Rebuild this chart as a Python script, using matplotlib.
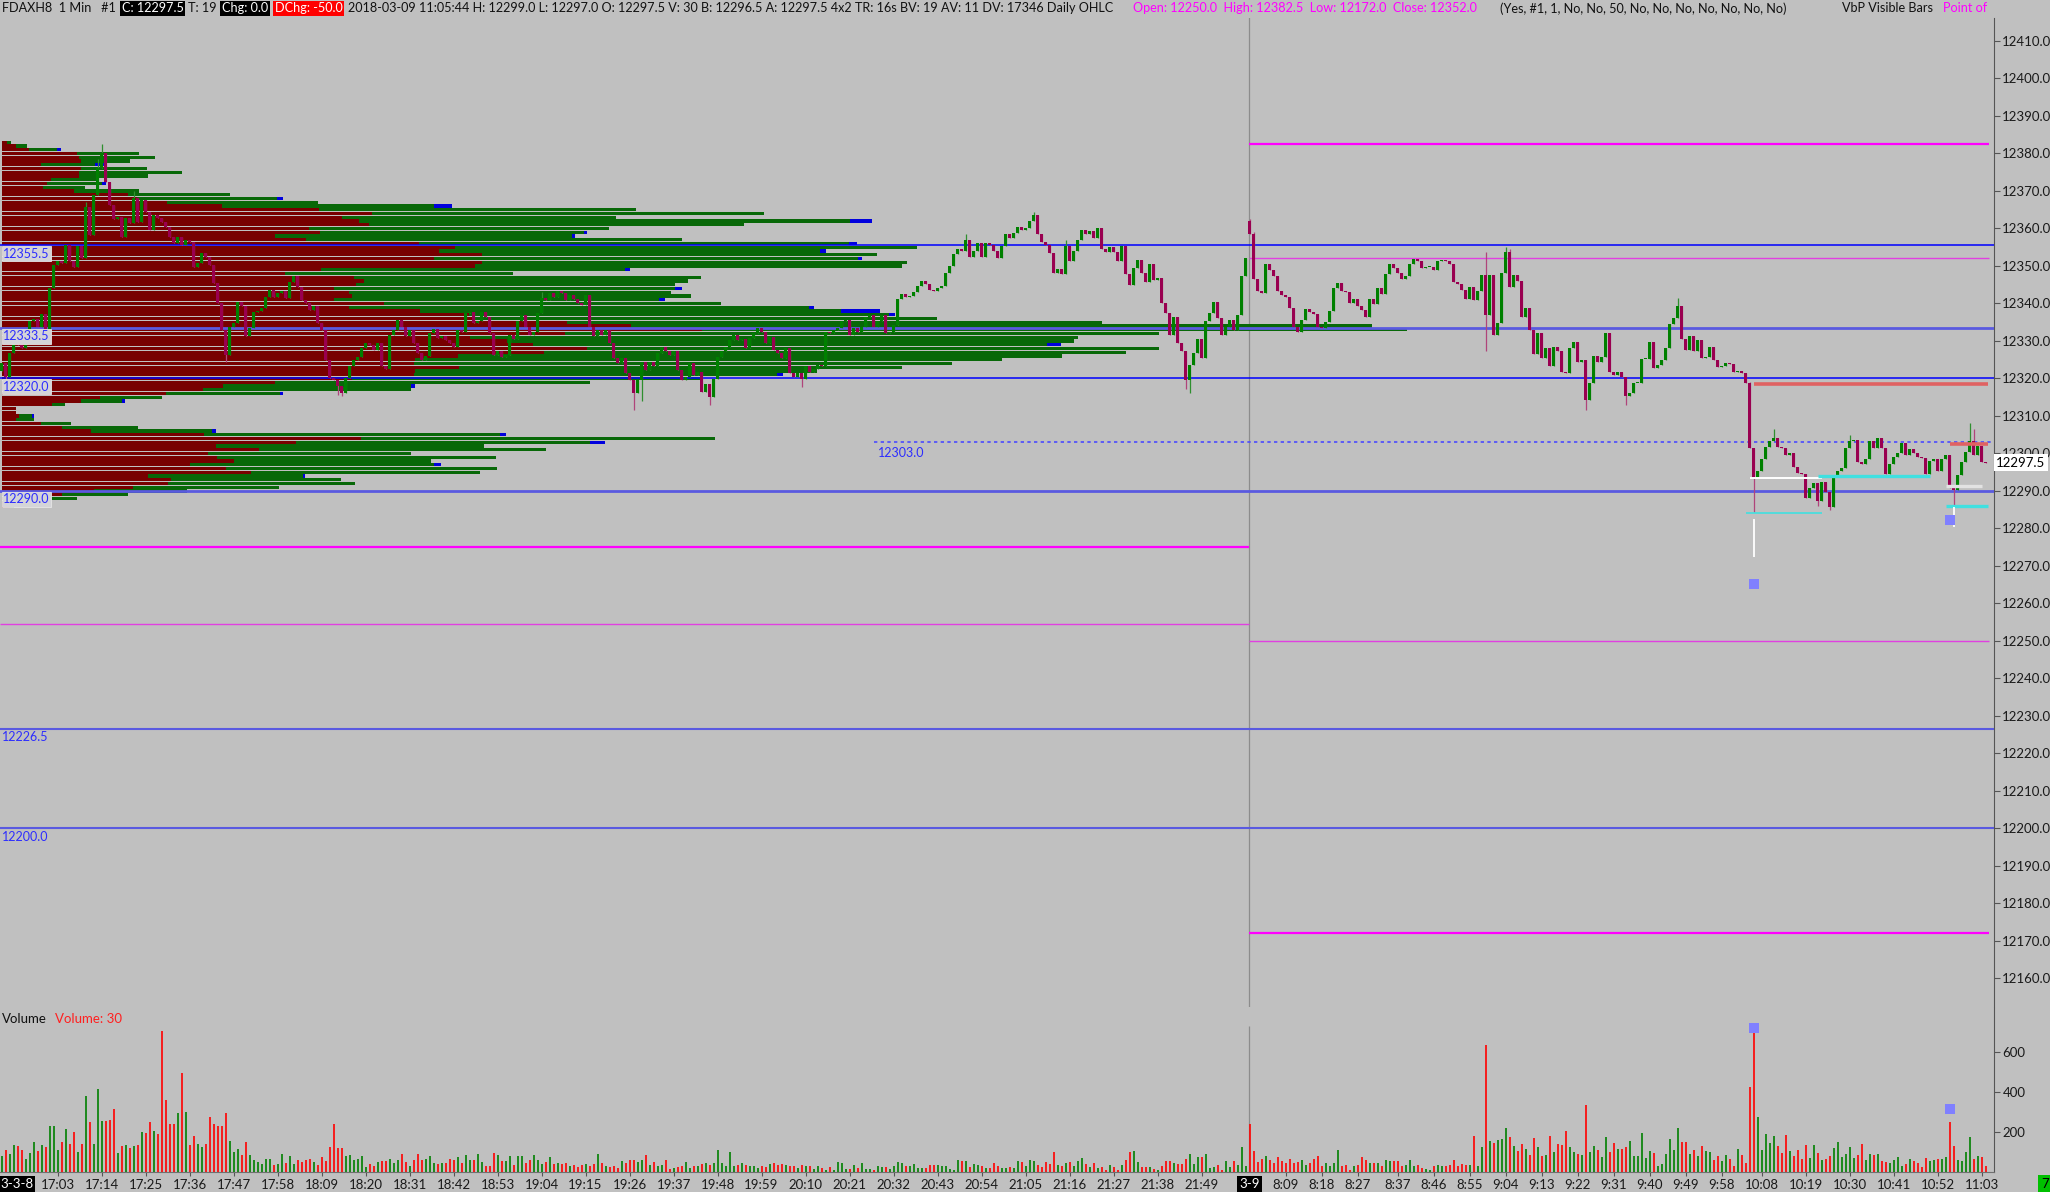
import numpy as np
import matplotlib.pyplot as plt

W, H = 2050, 1192
BG = '#c0c0c0'
plt.rcParams['font.family'] = ['Lato', 'DejaVu Sans']

# ---------------- data ----------------
# 1 minute closes, session 3-8 (16:49 .. 22:00)
s1_close = [
    12324.0, 12320.5, 12326.7, 12329.4, 12329.0, 12328.0, 12330.3, 12335.2, 12335.8, 12333.8,
    12337.1, 12333.0, 12344.0, 12350.3, 12351.2, 12350.7, 12355.6, 12351.2, 12349.8, 12355.2,
    12352.0, 12365.8, 12358.3, 12368.9, 12376.0, 12380.0, 12372.5, 12366.3, 12362.4, 12363.0,
    12357.8, 12362.7, 12361.4, 12368.0, 12361.8, 12367.6, 12364.5, 12359.6, 12363.6, 12362.7,
    12361.8, 12360.5, 12357.8, 12356.0, 12357.8, 12355.6, 12357.0, 12356.5, 12349.8, 12350.9,
    12353.4, 12352.5, 12350.3, 12345.4, 12340.0, 12333.0, 12326.3, 12333.8, 12334.7, 12340.5,
    12339.2, 12331.2, 12333.4, 12337.8, 12338.0, 12338.7, 12341.8, 12343.6, 12341.8, 12342.7,
    12343.2, 12341.4, 12345.8, 12347.2, 12344.5, 12340.9, 12340.0, 12338.3, 12339.2, 12334.7,
    12332.9, 12324.9, 12320.0, 12319.5, 12318.0, 12316.0, 12320.0, 12323.2, 12325.0, 12325.8,
    12328.0, 12329.4, 12329.0, 12327.6, 12329.4, 12323.2, 12322.4, 12331.6, 12333.0, 12335.6,
    12333.8, 12331.2, 12333.0, 12329.4, 12326.7, 12324.9, 12326.0, 12332.0, 12333.1, 12330.7,
    12331.2, 12330.3, 12329.4, 12328.5, 12333.0, 12332.5, 12337.4, 12337.8, 12334.7, 12335.2,
    12337.8, 12336.5, 12332.0, 12326.3, 12327.2, 12325.8, 12326.3, 12331.6, 12330.4, 12335.2,
    12336.9, 12333.8, 12331.6, 12332.5, 12337.4, 12341.4, 12340.9, 12342.7, 12341.8, 12343.2,
    12342.8, 12340.9, 12342.3, 12341.1, 12340.0, 12339.6, 12342.3, 12333.8, 12331.2, 12332.9,
    12331.6, 12332.9, 12329.4, 12325.4, 12324.0, 12325.4, 12321.4, 12319.6, 12316.0, 12319.6,
    12324.5, 12322.3, 12324.5, 12323.2, 12326.7, 12328.5, 12327.2, 12326.3, 12327.2, 12322.3,
    12319.6, 12320.3, 12324.0, 12320.9, 12321.8, 12316.5, 12318.5, 12315.0, 12319.8, 12325.8,
    12327.2, 12328.5, 12330.3, 12331.6, 12330.3, 12330.4, 12328.0, 12330.7, 12332.0, 12333.4,
    12332.5, 12329.4, 12331.0, 12327.6, 12326.7, 12325.4, 12328.0, 12321.4, 12320.5, 12321.4,
    12319.8, 12323.2, 12321.6, 12322.4, 12323.6, 12323.2, 12332.5, 12332.0, 12332.9, 12333.4,
    12335.2, 12335.6, 12331.6, 12333.4, 12332.5, 12333.8, 12336.5, 12336.9, 12333.8, 12335.2,
    12337.0, 12332.0, 12332.5, 12334.3, 12341.1, 12342.5, 12341.8, 12342.0, 12343.0, 12344.7,
    12346.1, 12345.2, 12343.6, 12343.2, 12344.0, 12344.7, 12348.0, 12350.0, 12353.1, 12354.4,
    12354.1, 12356.9, 12352.5, 12354.0, 12356.0, 12352.5, 12356.0, 12355.6, 12354.1, 12352.0,
    12355.2, 12358.5, 12357.4, 12358.7, 12360.5, 12359.6, 12360.0, 12362.1, 12363.6, 12358.5,
    12356.5, 12355.6, 12353.4, 12348.0, 12349.1, 12347.9, 12355.2, 12351.2, 12354.1, 12356.9,
    12359.6, 12358.5, 12359.2, 12357.4, 12360.0, 12354.4, 12353.8, 12355.0, 12353.8, 12351.4,
    12355.2, 12347.9, 12344.9, 12349.4, 12351.6, 12348.0, 12345.8, 12350.5, 12346.3, 12346.8,
    12340.0, 12337.4, 12331.6, 12336.5, 12329.4, 12327.2, 12319.6, 12323.6, 12326.7, 12330.4,
    12325.4, 12335.2, 12337.4, 12340.5, 12336.0, 12331.6, 12333.8, 12335.5, 12333.0, 12337.0,
    12347.3, 12352.0,
]
# session 3-9 (8:00 .. 11:04)
s2_close = [
    12358.5, 12346.4, 12343.3, 12342.7, 12350.5, 12348.9, 12347.2, 12343.2, 12342.3, 12341.8,
    12338.7, 12333.8, 12332.5, 12335.6, 12338.4, 12337.8, 12337.2, 12333.8, 12333.5, 12335.0,
    12338.0, 12344.0, 12345.4, 12343.4, 12343.0, 12340.0, 12341.1, 12339.3, 12338.3, 12336.3,
    12341.1, 12339.9, 12344.0, 12342.4, 12347.9, 12350.5, 12349.4, 12348.2, 12346.4, 12347.3,
    12350.5, 12351.8, 12351.2, 12349.4, 12349.6, 12349.8, 12348.9, 12351.2, 12351.6, 12351.2,
    12350.5, 12345.8, 12345.3, 12343.6, 12341.1, 12344.3, 12340.9, 12343.2, 12347.6, 12336.9,
    12347.6, 12331.6, 12334.7, 12348.0, 12353.6, 12344.5, 12347.6, 12346.0, 12336.5, 12338.7,
    12332.9, 12326.4, 12332.0, 12325.4, 12328.0, 12323.2, 12328.3, 12327.4, 12321.8, 12321.5,
    12328.0, 12329.6, 12324.5, 12325.0, 12314.3, 12318.7, 12326.0, 12324.5, 12325.6, 12332.0,
    12321.8, 12320.9, 12321.8, 12320.5, 12315.3, 12316.2, 12318.7, 12318.9, 12325.1, 12325.3,
    12329.6, 12322.9, 12323.6, 12324.9, 12328.0, 12334.5, 12336.0, 12339.2, 12330.4, 12327.6,
    12331.2, 12327.2, 12330.3, 12325.4, 12325.8, 12328.5, 12324.9, 12323.0, 12323.2, 12324.0,
    12323.9, 12321.8, 12322.0, 12321.4, 12318.7, 12301.4, 12293.4, 12295.2, 12298.4, 12301.8,
    12303.2, 12304.0, 12301.8, 12301.4, 12299.6, 12300.0, 12296.5, 12294.7, 12294.5, 12288.0,
    12290.7, 12292.0, 12287.2, 12292.5, 12289.8, 12285.8, 12293.8, 12295.2, 12296.0, 12301.4,
    12303.2, 12303.6, 12297.6, 12297.2, 12298.4, 12303.2, 12301.4, 12304.0, 12301.4, 12294.5,
    12297.2, 12299.0, 12300.0, 12302.7, 12299.6, 12301.1, 12300.0, 12299.0, 12298.7, 12294.5,
    12298.1, 12298.4, 12295.2, 12298.4, 12299.6, 12290.7, 12290.3, 12294.3, 12297.6, 12300.5,
    12303.4, 12299.6, 12302.0, 12297.6, 12297.5,
]
s1_open0 = 12322.0
s2_open0 = 12362.0

# wick extremes that stick out of the bodies (bar index -> price)
wick_hi = {21: 12367.0, 24: 12378.5, 25: 12382.5, 33: 12370.0, 135: 12343.0, 241: 12358.5,
           258: 12364.5, 266: 12357.0, 312: 12362.5, 313: 12359.0, 371: 12353.6, 376: 12355.0,
           377: 12354.5, 419: 12341.5, 437: 12319.0, 443: 12306.5, 462: 12305.0, 492: 12308.0,
           493: 12306.5}
wick_lo = {1: 12318.0, 12: 12332.0, 56: 12324.5, 84: 12315.5, 85: 12315.3, 158: 12311.5,
           160: 12314.0, 177: 12313.0, 200: 12317.6, 296: 12317.2, 297: 12316.0, 371: 12327.4,
           396: 12311.6, 406: 12313.0, 438: 12284.5, 454: 12286.0, 457: 12284.8, 488: 12285.6}

vol_s1 = [
    78, 112, 92, 137, 128, 112, 65, 95, 150, 103,
    137, 125, 232, 232, 112, 150, 215, 142, 200, 100,
    142, 378, 248, 142, 415, 257, 257, 262, 315, 95,
    128, 133, 120, 128, 133, 200, 195, 250, 203, 192,
    703, 362, 242, 242, 295, 495, 300, 137, 178, 142,
    125, 142, 273, 242, 228, 228, 295, 153, 100, 115,
    83, 150, 87, 62, 48, 42, 67, 67, 37, 42,
    92, 45, 78, 42, 62, 48, 62, 65, 48, 33,
    75, 53, 125, 242, 120, 120, 78, 87, 62, 67,
    82, 25, 42, 32, 48, 53, 53, 65, 45, 58,
    92, 48, 28, 58, 92, 58, 65, 82, 45, 42,
    45, 45, 65, 58, 75, 45, 83, 62, 62, 92,
    48, 28, 32, 95, 87, 53, 57, 78, 37, 82,
    78, 45, 58, 87, 62, 42, 48, 75, 42, 45,
    42, 45, 28, 37, 25, 33, 42, 28, 42, 92,
    45, 28, 25, 28, 20, 53, 45, 58, 62, 50,
    62, 83, 33, 48, 28, 33, 58, 17, 20, 23,
    28, 48, 20, 28, 28, 42, 45, 37, 45, 108,
    45, 28, 98, 28, 37, 45, 33, 28, 28, 20,
    28, 25, 42, 45, 37, 42, 37, 28, 28, 20,
    37, 32, 28, 15, 28, 20, 12, 23, 12, 48,
    45, 15, 17, 33, 20, 45, 15, 17, 12, 28,
    25, 25, 17, 32, 48, 45, 28, 28, 42, 20,
    20, 20, 37, 33, 33, 28, 32, 17, 12, 62,
    53, 53, 23, 42, 33, 28, 20, 20, 45, 28,
    20, 20, 23, 20, 57, 48, 28,
    62, 53, 33, 23, 50, 42, 100, 37, 32, 45,
    50, 28, 53, 70, 42, 23, 45, 20, 23, 12,
    37, 23, 12, 37, 62, 98, 103, 50, 23, 23,
    25, 17, 12, 28, 57, 53, 45, 42, 42, 65,
    90, 42, 75, 75, 92, 20, 23, 33, 12, 53,
    25, 53, 33, 123, 28,
]
vol_s2 = [
    242, 103, 50, 65, 78, 62, 45, 73, 53, 45,
    65, 45, 48, 58, 33, 45, 65, 78, 28, 45,
    28, 45, 108, 28, 33, 12, 28, 33, 73, 58,
    45, 45, 45, 28, 58, 53, 53, 53, 28, 37,
    62, 32, 33, 20, 15, 12, 28, 37, 32, 28,
    37, 58, 28, 42, 33, 37, 182, 28, 123, 637,
    153, 145, 158, 165, 220, 173, 128, 103, 142, 117,
    87, 170, 125, 82, 87, 178, 98, 142, 133, 203,
    123, 98, 90, 87, 337, 100, 132, 112, 75, 175,
    100, 145, 117, 115, 123, 157, 82, 82, 195, 70,
    107, 95, 28, 42, 90, 165, 112, 220, 148, 150,
    92, 108, 78, 132, 103, 100, 62, 82, 53, 87,
    65, 28, 117, 87, 45, 423, 695,
    273, 112, 190, 145, 178, 132, 95, 187, 103, 78,
    112, 65, 133, 70, 135, 95, 58, 65, 78, 120,
    148, 75, 92, 125, 70, 87, 142, 62, 90, 83,
    90, 53, 50, 45, 58, 75, 28, 40, 65, 53,
    45, 23, 70, 53, 62, 65, 65, 73,
    250, 128, 62, 57, 100, 173, 65, 82, 75, 30,
]

# volume by price (visible bars), from 12383 downwards, 1 point per row
vbp_top = 12383
vbp_sell = [5, 14, 27, 75, 77, 79, 39, 79, 77, 77, 49, 45, 41, 72, 126, 135, 165, 220, 317, 370,
            340, 357, 367, 307, 318, 273, 304, 417, 453, 437, 480, 432, 480, 473, 319, 283, 352, 362, 354, 332,
            347, 350, 332, 382, 347, 418, 467, 472, 565, 629, 700, 563, 468, 505, 531, 585, 542, 456, 413, 412,
            457, 413, 412, 350, 273, 221, 201, 164, 98, 79, 50, 14, 14, 17, 14, 39, 60, 89, 202, 359,
            294, 214, 257, 206, 215, 232, 188, 224, 249, 146, 169, 166, 131, 92, 60, 43, 10, 8]
vbp_buy = [4, 11, 28, 62, 76, 49, 54, 66, 103, 69, 46, 55, 42, 65, 102, 140, 151, 212, 317, 392,
           274, 491, 375, 300, 264, 297, 376, 430, 462, 381, 395, 424, 425, 427, 304, 228, 347, 324, 319, 341,
           322, 339, 325, 337, 460, 421, 420, 463, 535, 741, 705, 594, 608, 567, 514, 572, 582, 604, 587, 538,
           443, 402, 363, 350, 315, 188, 208, 114, 62, 41, 13, 0, 0, 13, 18, 30, 76, 121, 296, 354,
           294, 268, 287, 203, 279, 197, 244, 271, 229, 155, 170, 187, 146, 93, 66, 32, 4, 4]
vbp_blue = [0, 0, 4, 0, 0, 0, 12, 0, 0, 0, 0, 4, 0, 0, 0, 6, 0, 18, 0, 0,
            0, 22, 0, 0, 3, 3, 0, 8, 0, 6, 0, 4, 0, 0, 5, 0, 0, 0, 0, 7,
            0, 0, 6, 0, 5, 39, 6, 0, 0, 0, 0, 0, 0, 0, 14, 0, 0, 0, 0, 0,
            0, 0, 6, 0, 0, 4, 0, 3, 0, 3, 0, 0, 0, 2, 0, 0, 0, 4, 6, 0,
            15, 0, 0, 0, 0, 0, 7, 0, 0, 2, 0, 0, 0, 0, 0, 0, 0, 0]

time_ticks = ['17:03', '17:14', '17:25', '17:36', '17:47', '17:58', '18:09', '18:20', '18:31', '18:42',
              '18:53', '19:04', '19:15', '19:26', '19:37', '19:48', '19:59', '20:10', '20:21', '20:32',
              '20:43', '20:54', '21:05', '21:16', '21:27', '21:38', '21:49',
              '8:09', '8:18', '8:27', '8:37', '8:46', '8:55', '9:04', '9:13', '9:22', '9:31', '9:40',
              '9:49', '9:58', '10:08', '10:19', '10:30', '10:41', '10:52', '11:03']

# ---------------- build ----------------
n1 = len(s1_close)
close = np.array(s1_close + s2_close)
opens = np.concatenate([[s1_open0], close[:-1]])
opens[n1] = s2_open0
xb = np.arange(len(close))
hi = np.maximum(opens, close)
lo = np.minimum(opens, close)
for k, v in wick_hi.items():
    hi[k] = max(hi[k], v)
for k, v in wick_lo.items():
    lo[k] = min(lo[k], v)
up = close >= opens
vol = np.array(vol_s1 + vol_s2)


def bar_of(t):
    h, m = map(int, t.split(':'))
    if h >= 12:
        return h * 60 + m - (16 * 60 + 49)
    return n1 + h * 60 + m - 8 * 60


fig = plt.figure(figsize=(W / 100, H / 100), dpi=100, facecolor=BG)


def px_axes(x0, y0, x1, y1):
    return fig.add_axes([x0 / W, 1 - y1 / H, (x1 - x0) / W, (y1 - y0) / H])


ax = px_axes(0, 18, 1994, 1007)
axv = px_axes(0, 1008, 1994, 1172)
XL = (-0.375, 498.1)
for a in (ax, axv):
    a.set_facecolor(BG)
    a.set_xlim(*XL)
    for s in ('top', 'left', 'bottom'):
        a.spines[s].set_visible(False)
    a.spines['right'].set_color('#555555')
    a.yaxis.tick_right()
ax.set_ylim(12152.4, 12416.13)
axv.set_ylim(0, 820)
axv.spines['bottom'].set_visible(True)
axv.spines['bottom'].set_color('#707070')

# volume profile
pr = vbp_top - np.arange(len(vbp_sell))
sc = 0.25
s_ = np.array(vbp_sell) * sc
b_ = np.array(vbp_buy) * sc
u_ = np.array(vbp_blue) * sc
ax.barh(pr, s_, left=0, height=0.84, color='#780000', lw=0, zorder=2)
ax.barh(pr, b_, left=s_, height=0.84, color='#086808', lw=0, zorder=2)
ax.barh(pr, u_, left=s_ + b_, height=0.84, color='#0000dd', lw=0, zorder=2)

# horizontal levels across the chart
for p, c, w in [(12355.5, '#0000ff', 1.1), (12333.5, '#5a5ae0', 2.0), (12320.0, '#0000ff', 1.1),
                (12290.0, '#5a5ae0', 2.0), (12226.5, '#5a5ae0', 1.5), (12200.0, '#5a5ae0', 1.5)]:
    ax.axhline(p, color=c, lw=w, zorder=3)
for p, lab in [(12355.5, '12355.5'), (12333.5, '12333.5'), (12320.0, '12320.0'), (12290.0, '12290.0')]:
    ax.text(0.4, p - 0.6, lab, color='#2c2cff', fontsize=9, va='top', ha='left', zorder=9,
            bbox=dict(boxstyle='square,pad=0.12', fc='#d4d4d8', ec='#e6e6e6', lw=0.6))
for p, lab in [(12226.5, '12226.5'), (12200.0, '12200.0')]:
    ax.text(0.2, p - 0.6, lab, color='#2c2cff', fontsize=9, va='top', ha='left', zorder=9)

ax.hlines(12303.0, 218, XL[1], colors='#4b4bff', lw=1.2, linestyles=(0, (2, 2)), zorder=3)
ax.text(219, 12301.6, '12303.0', color='#2c2cff', fontsize=9, va='top', ha='left', zorder=9)

# prior day OHLC
for p, w, c in [(12382.5, 1.6, '#ff00ff'), (12352.0, 1.0, '#e040e0'),
                (12250.0, 1.0, '#e040e0'), (12172.0, 1.6, '#ff00ff')]:
    ax.hlines(p, n1 - 0.1, 496.9, colors=c, lw=w, zorder=3)
for p, w, c in [(12275.0, 1.6, '#ff00ff'), (12254.5, 1.0, '#e040e0')]:
    ax.hlines(p, XL[0], n1 - 0.1, colors=c, lw=w, zorder=3)

# short levels near the end
for x0, x1, p, c, w in [(438, 496.6, 12318.5, '#e06262', 2.6), (487, 496.6, 12302.5, '#e06262', 2.6),
                        (437, 455, 12293.5, '#ffffff', 1.4), (436, 455, 12284.0, '#40e0e0', 1.2),
                        (454, 482, 12294.0, '#40e0e0', 2.4), (486, 495, 12291.2, '#e2e2e2', 2.4),
                        (486, 496.6, 12286.0, '#40e0e0', 2.4)]:
    ax.hlines(p, x0, x1, colors=c, lw=w, zorder=6)
ax.vlines([438, 488], [12272.5, 12280.5], [12282.5, 12285.6], colors='white', lw=1.3, zorder=6)
ax.scatter([438, 487], [12265.2, 12282.3], marker='s', s=42, color='#8080ff', lw=0, zorder=7)

# session divider
ax.axvline(n1 - 0.05, color='#8c8c8c', lw=0.9, zorder=1)
axv.vlines(n1 - 0.05, 0, 730, colors='#8c8c8c', lw=0.9, zorder=1)

# candles
ax.vlines(xb, lo, hi, colors=np.where(up, '#2f8f2f', '#b0447a'), lw=0.9, zorder=4)
ax.bar(xb, np.maximum(np.abs(close - opens), 0.3), bottom=np.minimum(opens, close), width=0.62,
       color=np.where(up, '#008000', '#990050'), lw=0, zorder=5)

# price axis
ax.set_yticks(np.arange(12160, 12411, 10))
ax.set_yticklabels([f'{v:.1f}' for v in np.arange(12160, 12411, 10)])
ax.tick_params(axis='y', length=4, width=0.8, color='#555555', pad=2, labelsize=9.5, labelcolor='#1a1a1a')
ax.set_xticks([])
ax.text(1.001, (close[-1] - 12152.4) / (12416.13 - 12152.4), f'{close[-1]:.1f}', transform=ax.transAxes,
        fontsize=9.5, color='black', va='center', ha='left', zorder=10,
        bbox=dict(boxstyle='square,pad=0.18', fc='white', ec='none'))

# volume panel
axv.vlines(xb, 0, vol, colors=np.where(up, '#008000', '#ff0000'), lw=1.2, zorder=3)
axv.scatter([438, 487], [722, 317], marker='s', s=42, color='#8080ff', lw=0, zorder=5)
axv.set_yticks([200, 400, 600])
axv.set_yticklabels(['200', '400', '600'])
axv.tick_params(axis='y', length=4, width=0.8, color='#555555', pad=2, labelsize=9.5, labelcolor='#1a1a1a')
axv.set_xticks([bar_of(t) for t in time_ticks])
axv.set_xticklabels(time_ticks)
axv.tick_params(axis='x', length=3, width=0.8, color='#555555', pad=2, labelsize=9.5, labelcolor='#1a1a1a')
axv.text(0.001, 0.93, 'Volume', transform=axv.transAxes, fontsize=9.5, color='#111111', va='center')
axv.text(0.0276, 0.93, f'Volume: {vol[-1]}', transform=axv.transAxes, fontsize=9.5, color='#ff2020', va='center')
fig.text(0 / W, 1 - 1184 / H, '3-3-8', fontsize=9.5, color='white', va='center', ha='left',
         bbox=dict(boxstyle='square,pad=0.15', fc='black', ec='none'))
axv.text(n1, -0.075, '3-9', transform=axv.get_xaxis_transform(), fontsize=9.5, color='white',
         va='center', ha='center', bbox=dict(boxstyle='square,pad=0.15', fc='black', ec='none'))
fig.text(2041 / W, 1 - 1184 / H, '7', fontsize=9.5, color='black', va='center', ha='left',
         bbox=dict(boxstyle='square,pad=0.25', fc='#00c000', ec='none'))

# header line
hax = px_axes(0, 0, 1991, 17)
hax.set_xlim(0, 1991)
hax.set_ylim(17, 0)
hax.axis('off')
renderer = fig.canvas.get_renderer()


def flow(x, parts):
    for txt, fg, bg in parts:
        t = hax.text(x, 8.5, txt, color=fg, fontsize=9.1, va='center', ha='left', clip_on=True)
        if bg:
            t.set_bbox(dict(boxstyle='square,pad=0.12', fc=bg, ec='none'))
        x += t.get_window_extent(renderer).width + 5


flow(2, [('FDAXH8  1 Min   #1', '#111111', None)])
flow(122, [('C: 12297.5', 'white', 'black')])
flow(188, [('T: 19', '#111111', None)])
flow(222, [('Chg: 0.0', 'white', 'black')])
flow(275, [('DChg: -50.0', 'white', '#ff0000')])
flow(348, [('2018-03-09 11:05:44 H: 12299.0 L: 12297.0 O: 12297.5 V: 30 B: 12296.5 A: 12297.5 4x2 '
            'TR: 16s BV: 19 AV: 11 DV: 17346 Daily OHLC', '#111111', None)])
flow(1133, [('Open: 12250.0  High: 12382.5  Low: 12172.0  Close: 12352.0', '#ff00ff', None)])
flow(1500, [('(Yes, #1, 1, No, No, 50, No, No, No, No, No, No, No)', '#111111', None)])
flow(1842, [('VbP Visible Bars', '#111111', None)])
flow(1943, [('Point of Control', '#ff00ff', None)])

fig.savefig('out.png', dpi=100, facecolor=BG)
